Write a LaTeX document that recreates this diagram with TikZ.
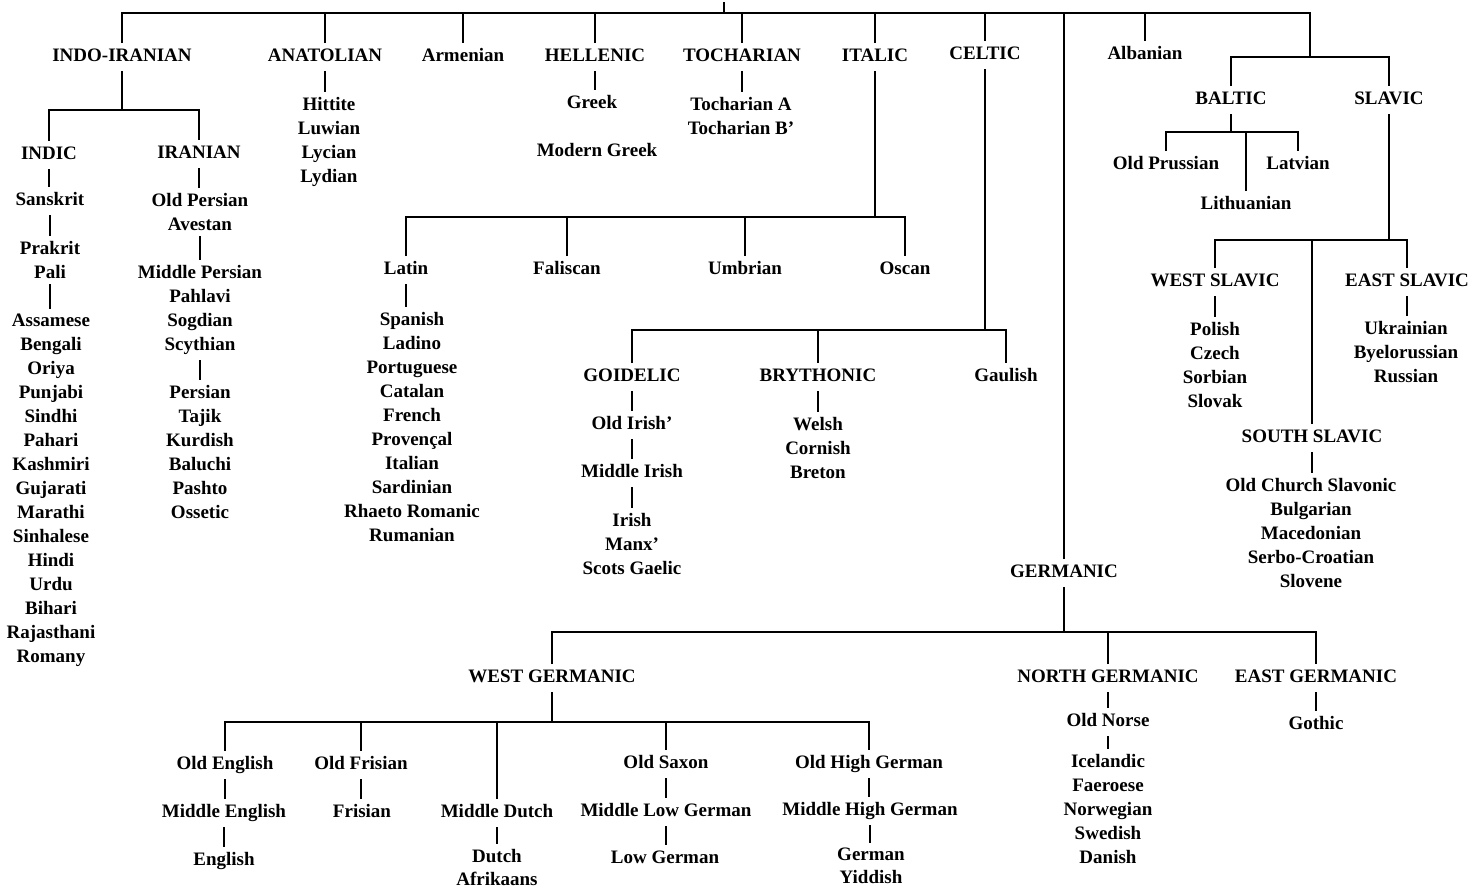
\documentclass[tikz,border=0pt]{standalone}
\usepackage{fontspec}
\setmainfont{Liberation Serif}
\begin{document}
\begin{tikzpicture}[x=0.5pt,y=-0.5pt,
  every node/.append style={yshift=-1pt},
  lang/.style={font=\fontsize{9.5}{12}\selectfont\bfseries, inner sep=2.5pt, text height=6.6pt, text depth=2pt},
  grp/.style={font=\fontsize{9.5}{12}\selectfont\bfseries, inner sep=2.5pt, align=center, anchor=north},
  ln/.style={line width=1pt}]
\useasboundingbox (0,0) rectangle (1469,889);

% ---------- level 1 ----------
\coordinate (rootTop) at (724,0);
\coordinate (topbar) at (0,11);
\node[lang] (ii) at (122,55) {INDO-IRANIAN};
\node[lang] (anat) at (325,55) {ANATOLIAN};
\node[lang] (arm) at (463,55) {Armenian};
\node[lang] (hell) at (595,55) {HELLENIC};
\node[lang] (toch) at (742,55) {TOCHARIAN};
\node[lang] (ital) at (875,55) {ITALIC};
\node[lang] (celt) at (985,53) {CELTIC};
\node[lang] (alb) at (1145,53) {Albanian};
\coordinate (bsj) at (1310,55);
\node[lang] (germ) at (1064,571) {GERMANIC};

\draw[ln] (rootTop) -- (rootTop |- topbar);
\draw[ln] (ii.north) -- (ii.north |- topbar) -- (bsj |- topbar) -- (bsj);
\foreach \n in {anat,arm,hell,toch,ital,celt,alb,germ}
  \draw[ln] (\n.north) -- (\n.north |- topbar);

% ---------- Baltic / Slavic ----------
\node[lang] (bal) at (1231,98) {BALTIC};
\node[lang] (slav) at (1389,98) {SLAVIC};
\draw[ln] (bal.north) -- (bal.north |- bsj) -- (slav.north |- bsj) -- (slav.north);

\coordinate (balbar) at (0,130);
\node[lang] (oprus) at (1166,163) {Old Prussian};
\node[lang] (lith) at (1246,203) {Lithuanian};
\node[lang] (latv) at (1298,163) {Latvian};
\draw[ln] (bal.south) -- (bal.south |- balbar);
\draw[ln] (oprus.north) -- (oprus.north |- balbar) -- (latv.north |- balbar) -- (latv.north);
\draw[ln] (lith.north) -- (lith.north |- balbar);

\coordinate (slavbar) at (0,238);
\node[lang] (wsl) at (1215,280) {WEST SLAVIC};
\node[lang] (ssl) at (1312,436) {SOUTH SLAVIC};
\node[lang] (esl) at (1407,280) {EAST SLAVIC};
\draw[ln] (slav.south) -- (slav.south |- slavbar);
\draw[ln] (wsl.north) -- (wsl.north |- slavbar) -- (esl.north |- slavbar) -- (esl.north);
\draw[ln] (ssl.north) -- (ssl.north |- slavbar);
\node[grp] (wsll) at (1215,315) {Polish\\Czech\\Sorbian\\Slovak};
\node[grp] (esll) at (1406,314) {Ukrainian\\Byelorussian\\Russian};
\node[grp] (ssll) at (1311,471) {Old Church Slavonic\\Bulgarian\\Macedonian\\Serbo-Croatian\\Slovene};
\draw[ln] (wsl.south) -- (wsl.south |- wsll.north);
\draw[ln] (esl.south) -- (esl.south |- esll.north);
\draw[ln] (ssl.south) -- (ssl.south |- ssll.north);

% ---------- Indo-Iranian ----------
\coordinate (iibar) at (0,108);
\node[lang] (indic) at (49,153) {INDIC};
\node[lang] (iran) at (199,152) {IRANIAN};
\draw[ln] (ii.south) -- (ii.south |- iibar);
\draw[ln] (indic.north) -- (indic.north |- iibar) -- (iran.north |- iibar) -- (iran.north);
\node[lang] (sansk) at (50,199) {Sanskrit};
\node[grp] (prak) at (50,234) {Prakrit\\Pali};
\node[grp] (indl) at (51,307) {Assamese\\Bengali\\Oriya\\Punjabi\\Sindhi\\Pahari\\Kashmiri\\Gujarati\\Marathi\\Sinhalese\\Hindi\\Urdu\\Bihari\\Rajasthani\\Romany};
\draw[ln] (indic.south) -- (indic.south |- sansk.north);
\draw[ln] (sansk.south) -- (sansk.south |- prak.north);
\draw[ln] (prak.south) -- (prak.south |- indl.north);
\node[grp] (opers) at (200,186) {Old Persian\\Avestan};
\node[grp] (mpers) at (200,258) {Middle Persian\\Pahlavi\\Sogdian\\Scythian};
\node[grp] (npers) at (200,378) {Persian\\Tajik\\Kurdish\\Baluchi\\Pashto\\Ossetic};
\draw[ln] (iran.south) -- (iran.south |- opers.north);
\draw[ln] (opers.south) -- (opers.south |- mpers.north);
\draw[ln] (mpers.south) -- (mpers.south |- npers.north);

% ---------- Anatolian, Hellenic, Tocharian ----------
\node[grp] (anatl) at (329,90) {Hittite\\Luwian\\Lycian\\Lydian};
\draw[ln] (anat.south) -- (anat.south |- anatl.north);
\node[lang] (greek) at (592,102) {Greek};
\node[lang] (mgreek) at (597,150) {Modern Greek};
\draw[ln] (hell.south) -- (hell.south |- greek.north);
\node[grp] (tochl) at (741,90) {Tocharian A\\Tocharian B’};
\draw[ln] (toch.south) -- (toch.south |- tochl.north);

% ---------- Italic ----------
\coordinate (italbar) at (0,215);
\node[lang] (latin) at (406,268) {Latin};
\node[lang] (falis) at (567,268) {Faliscan};
\node[lang] (umbr) at (745,268) {Umbrian};
\node[lang] (osc) at (905,268) {Oscan};
\draw[ln] (ital.south) -- (ital.south |- italbar);
\draw[ln] (latin.north) -- (latin.north |- italbar) -- (osc.north |- italbar) -- (osc.north);
\draw[ln] (falis.north) -- (falis.north |- italbar);
\draw[ln] (umbr.north) -- (umbr.north |- italbar);
\node[grp] (romance) at (412,305) {Spanish\\Ladino\\Portuguese\\Catalan\\French\\Provençal\\Italian\\Sardinian\\Rhaeto Romanic\\Rumanian};
\draw[ln] (latin.south) -- (latin.south |- romance.north);

% ---------- Celtic ----------
\coordinate (celtbar) at (0,328);
\node[lang] (goid) at (632,375) {GOIDELIC};
\node[lang] (bryth) at (818,375) {BRYTHONIC};
\node[lang] (gaul) at (1006,375) {Gaulish};
\draw[ln] (celt.south) -- (celt.south |- celtbar);
\draw[ln] (goid.north) -- (goid.north |- celtbar) -- (gaul.north |- celtbar) -- (gaul.north);
\draw[ln] (bryth.north) -- (bryth.north |- celtbar);
\node[lang] (oldir) at (632,423) {Old Irish’};
\node[lang] (midir) at (632,471) {Middle Irish};
\node[grp] (modir) at (632,506) {Irish\\Manx’\\Scots Gaelic};
\draw[ln] (goid.south) -- (goid.south |- oldir.north);
\draw[ln] (oldir.south) -- (oldir.south |- midir.north);
\draw[ln] (midir.south) -- (midir.south |- modir.north);
\node[grp] (brythl) at (818,410) {Welsh\\Cornish\\Breton};
\draw[ln] (bryth.south) -- (bryth.south |- brythl.north);

% ---------- Germanic ----------
\coordinate (germbar) at (0,630);
\node[lang] (wger) at (552,676) {WEST GERMANIC};
\node[lang] (nger) at (1108,676) {NORTH GERMANIC};
\node[lang] (eger) at (1316,676) {EAST GERMANIC};
\draw[ln] (germ.south) -- (germ.south |- germbar);
\draw[ln] (wger.north) -- (wger.north |- germbar) -- (eger.north |- germbar) -- (eger.north);
\draw[ln] (nger.north) -- (nger.north |- germbar);

\coordinate (wgbar) at (0,720);
\node[lang] (oe) at (225,763) {Old English};
\node[lang] (ofris) at (361,763) {Old Frisian};
\node[lang] (mdutch) at (497,811) {Middle Dutch};
\node[lang] (osax) at (666,762) {Old Saxon};
\node[lang] (ohg) at (869,762) {Old High German};
\draw[ln] (wger.south) -- (wger.south |- wgbar);
\draw[ln] (oe.north) -- (oe.north |- wgbar) -- (ohg.north |- wgbar) -- (ohg.north);
\foreach \n in {ofris,mdutch,osax}
  \draw[ln] (\n.north) -- (\n.north |- wgbar);

\node[lang] (me) at (224,811) {Middle English};
\node[lang] (eng) at (224,859) {English};
\draw[ln] (oe.south) -- (oe.south |- me.north);
\draw[ln] (me.south) -- (me.south |- eng.north);
\node[lang] (fris) at (362,811) {Frisian};
\draw[ln] (ofris.south) -- (ofris.south |- fris.north);
\node[grp] (dutchg) at (497,842) {Dutch\\[-0.6pt]Afrikaans};
\draw[ln] (mdutch.south) -- (mdutch.south |- dutchg.north);
\node[lang] (mlg) at (666,810) {Middle Low German};
\node[lang] (lg) at (665,857) {Low German};
\draw[ln] (osax.south) -- (osax.south |- mlg.north);
\draw[ln] (mlg.south) -- (mlg.south |- lg.north);
\node[lang] (mhg) at (870,809) {Middle High German};
\node[grp] (germang) at (871,841) {German\\[-0.6pt]Yiddish};
\draw[ln] (ohg.south) -- (ohg.south |- mhg.north);
\draw[ln] (mhg.south) -- (mhg.south |- germang.north);

\node[lang] (onorse) at (1108,720) {Old Norse};
\node[grp] (nordl) at (1108,747) {Icelandic\\Faeroese\\Norwegian\\Swedish\\Danish};
\draw[ln] (nger.south) -- (nger.south |- onorse.north);
\draw[ln] (onorse.south) -- (onorse.south |- nordl.north);
\node[lang] (gothic) at (1316,723) {Gothic};
\draw[ln] (eger.south) -- (eger.south |- gothic.north);
\end{tikzpicture}
\end{document}
